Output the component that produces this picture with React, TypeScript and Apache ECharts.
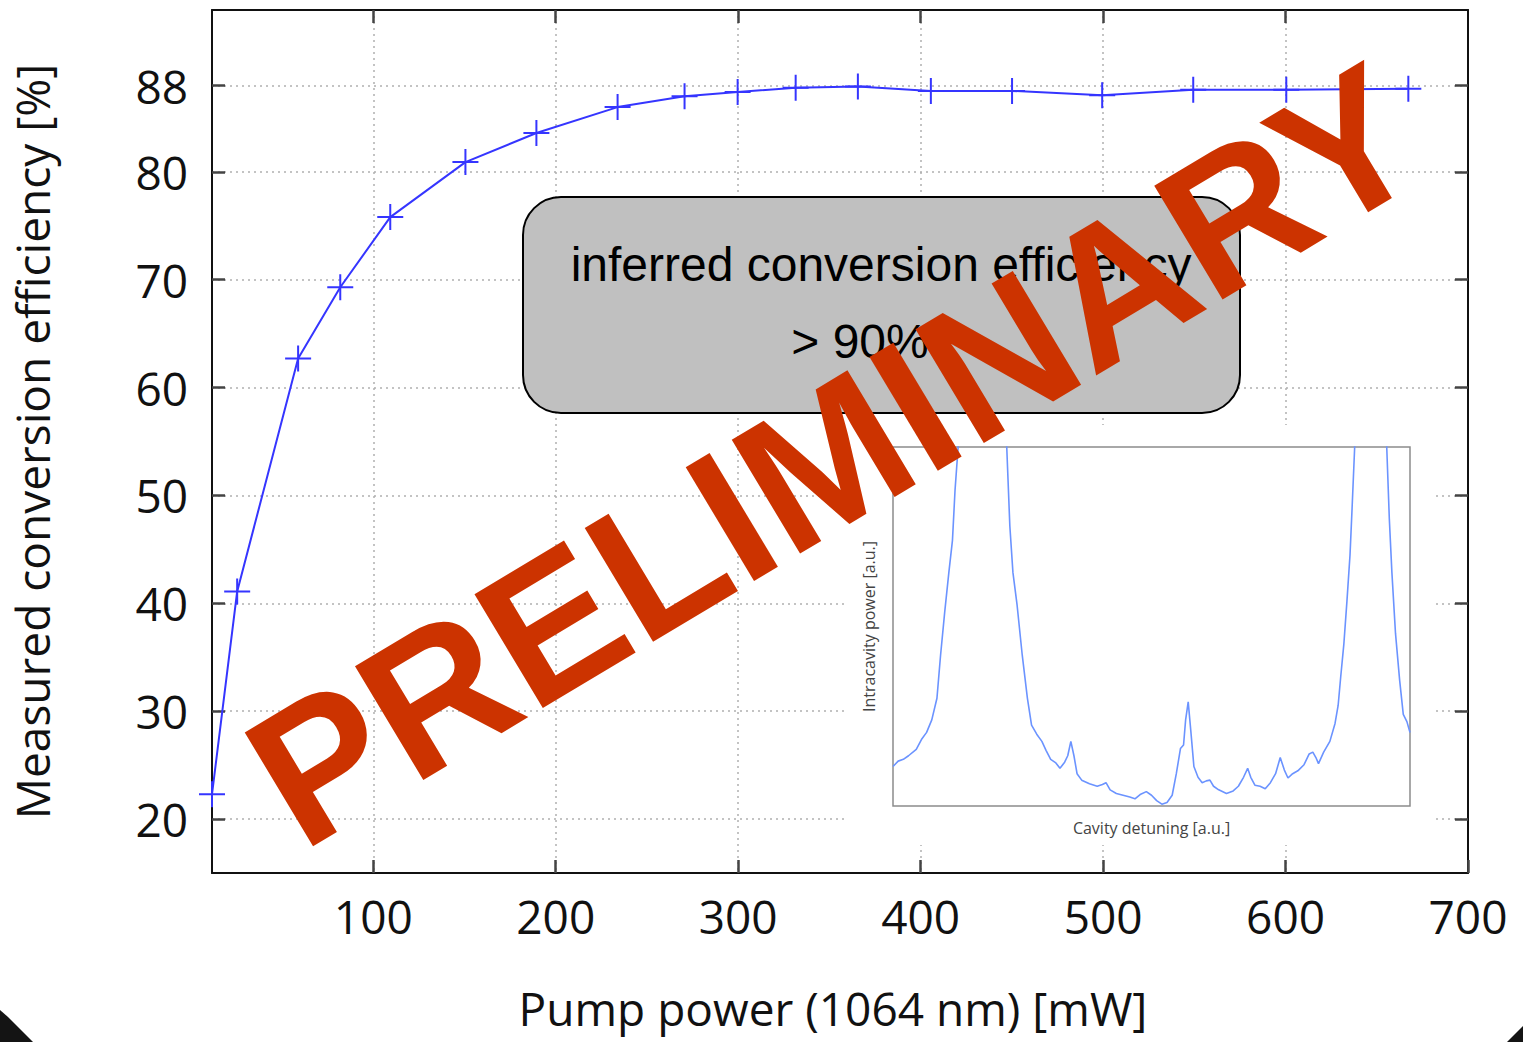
import React, { useEffect, useRef } from "react";
import * as echarts from "echarts";

// Main measured data
const pumpPower = [11.6, 25.4, 58.8, 81.9, 109.3, 150.5, 189.4, 233.9, 270.6, 299.7, 331.5, 365.6, 405.6, 450.1, 499.5, 549.4, 600.4, 667.3];
const efficiency = [22.3, 41.1, 62.7, 69.3, 75.8, 80.9, 83.6, 86.0, 87.0, 87.4, 87.8, 87.9, 87.5, 87.5, 87.1, 87.6, 87.6, 87.7];

const xTicks = [100, 200, 300, 400, 500, 600, 700];
const yTicks = [20, 30, 40, 50, 60, 70, 80, 88];

// Inset spectrum (normalised, values > 1 are clipped at top of inset)
const specX = [0.000, 0.010, 0.020, 0.030, 0.045, 0.055, 0.065, 0.075, 0.085, 0.092, 0.100, 0.108, 0.115, 0.120, 0.126, 0.140, 0.170, 0.205, 0.220, 0.226, 0.232, 0.240, 0.250, 0.260, 0.268, 0.278, 0.288, 0.296, 0.305, 0.315, 0.323, 0.332, 0.338, 0.344, 0.350, 0.356, 0.365, 0.380, 0.395, 0.405, 0.412, 0.420, 0.432, 0.445, 0.458, 0.468, 0.478, 0.490, 0.500, 0.510, 0.520, 0.530, 0.540, 0.548, 0.556, 0.562, 0.566, 0.571, 0.576, 0.582, 0.590, 0.598, 0.606, 0.613, 0.620, 0.630, 0.645, 0.658, 0.668, 0.678, 0.686, 0.692, 0.700, 0.710, 0.720, 0.730, 0.740, 0.749, 0.757, 0.764, 0.773, 0.783, 0.795, 0.805, 0.812, 0.818, 0.823, 0.833, 0.845, 0.855, 0.861, 0.866, 0.872, 0.878, 0.884, 0.888, 0.893, 0.905, 0.925, 0.945, 0.955, 0.960, 0.965, 0.972, 0.980, 0.987, 0.994, 1.000];
const specY = [0.110, 0.125, 0.130, 0.140, 0.158, 0.185, 0.205, 0.240, 0.300, 0.420, 0.540, 0.650, 0.740, 0.880, 1.000, 1.500, 2.500, 1.500, 1.000, 0.780, 0.650, 0.560, 0.420, 0.300, 0.225, 0.200, 0.180, 0.155, 0.130, 0.120, 0.105, 0.122, 0.140, 0.180, 0.140, 0.090, 0.072, 0.062, 0.055, 0.060, 0.065, 0.045, 0.035, 0.030, 0.025, 0.020, 0.032, 0.040, 0.030, 0.015, 0.005, 0.010, 0.030, 0.090, 0.160, 0.170, 0.240, 0.290, 0.210, 0.110, 0.080, 0.065, 0.070, 0.072, 0.055, 0.045, 0.035, 0.042, 0.055, 0.080, 0.105, 0.080, 0.058, 0.055, 0.048, 0.065, 0.090, 0.135, 0.100, 0.078, 0.090, 0.098, 0.115, 0.145, 0.150, 0.135, 0.118, 0.150, 0.180, 0.230, 0.280, 0.360, 0.450, 0.570, 0.700, 0.830, 1.000, 1.600, 2.500, 1.600, 1.000, 0.800, 0.650, 0.480, 0.350, 0.255, 0.235, 0.205];

const boxLine1 = "inferred conversion efficiency";
const boxLine2 = "> 90%";
const stamp = "PRELIMINARY";

const FONT = "Open Sans";
const TICK_COLOR = "#444";
const GRID_COLOR = "#b0b0b0";
const BLUE = "#3535ff";

export default function App() {
  const ref = useRef<HTMLDivElement>(null);
  useEffect(() => {
    document.body.style.margin = "0";
    const chart = echarts.init(ref.current!, null, { renderer: "svg" });
    const mainData = pumpPower.map((x, i) => [x, efficiency[i]]);
    const specData = specX.map((x, i) => [x, specY[i]]);

    const tickCommon = { show: true, inside: true, length: 13, lineStyle: { color: TICK_COLOR, width: 2.5 } };
    const lineCommon = { show: true, onZero: false, lineStyle: { color: "#111", width: 2 } };

    const option: any = {
      animation: false,
      backgroundColor: "#fff",
      grid: [
        { left: 212, top: 10, right: 55, bottom: 169, z: 0 },
        { left: 893, top: 447, width: 517, height: 359, show: true, borderColor: "#8c8c8c", borderWidth: 1.5, backgroundColor: "#fff", z: 3 },
      ],
      xAxis: [
        {
          type: "value", gridIndex: 0, position: "bottom", min: 11.6, max: 700,
          axisLine: lineCommon,
          axisTick: { ...tickCommon, customValues: xTicks },
          axisLabel: { customValues: xTicks, fontSize: 46, color: "#111", fontFamily: FONT, margin: 20 },
          splitLine: { show: true, lineStyle: { color: GRID_COLOR, type: [2, 4], width: 1.5 } },
          name: "Pump power (1064 nm) [mW]", nameLocation: "middle", nameGap: 112,
          nameTextStyle: { fontSize: 46, color: "#111", fontFamily: FONT, padding: [0, 14, 0, 0] },
        },
        {
          type: "value", gridIndex: 0, position: "top", min: 11.6, max: 700,
          axisLine: lineCommon,
          axisTick: { ...tickCommon, customValues: xTicks.slice(0, 6) },
          axisLabel: { show: false },
          splitLine: { show: false },
        },
        {
          type: "value", gridIndex: 1, min: 0, max: 1,
          axisLine: { show: false }, axisTick: { show: false }, axisLabel: { show: false }, splitLine: { show: false },
          name: "Cavity detuning [a.u.]", nameLocation: "middle", nameGap: 14,
          nameTextStyle: { fontSize: 16, color: "#444", fontFamily: FONT },
          z: 3,
        },
      ],
      yAxis: [
        {
          type: "value", gridIndex: 0, position: "left", min: 15, max: 95,
          axisLine: lineCommon,
          axisTick: { ...tickCommon, customValues: yTicks },
          axisLabel: { customValues: yTicks, fontSize: 46, color: "#111", fontFamily: FONT, margin: 24 },
          splitLine: { show: true, lineStyle: { color: GRID_COLOR, type: [2, 4], width: 1.5 } },
          name: "Measured conversion efficiency [%]", nameLocation: "middle", nameGap: 157, nameRotate: 90,
          nameTextStyle: { fontSize: 46, color: "#111", fontFamily: FONT },
        },
        {
          type: "value", gridIndex: 0, position: "right", min: 15, max: 95,
          axisLine: lineCommon,
          axisTick: { ...tickCommon, customValues: yTicks },
          axisLabel: { show: false },
          splitLine: { show: false },
        },
        {
          type: "value", gridIndex: 1, min: 0, max: 1,
          axisLine: { show: false }, axisTick: { show: false }, axisLabel: { show: false }, splitLine: { show: false },
          name: "Intracavity power [a.u.]", nameLocation: "middle", nameGap: 16, nameRotate: 90,
          nameTextStyle: { fontSize: 16, color: "#444", fontFamily: FONT },
          z: 3,
        },
      ],
      series: [
        {
          type: "line", xAxisIndex: 0, yAxisIndex: 0, data: mainData, clip: false, z: 4,
          lineStyle: { color: BLUE, width: 2 },
          symbol: "path://M0,-1L0,1M-1,0L1,0", symbolSize: 26,
          itemStyle: { color: BLUE, borderColor: BLUE, borderWidth: 2 },
        },
        {
          type: "line", xAxisIndex: 2, yAxisIndex: 2, data: specData, clip: true, z: 4,
          showSymbol: false, symbol: "none",
          lineStyle: { color: "#6b93ff", width: 1.6 },
        },
      ],
      graphic: [
        { type: "rect", z: 1, shape: { x: 847, y: 425, width: 586, height: 420 }, style: { fill: "#fff" } },
        {
          type: "rect", z: 5, shape: { x: 523, y: 197, width: 717, height: 216, r: 38 },
          style: { fill: "#c0c0c0", stroke: "#000", lineWidth: 2 },
        },
        {
          type: "text", z: 6, x: 881, y: 264,
          style: { text: boxLine1, fontSize: 48, fontFamily: "Liberation Sans", fill: "#000", align: "center", verticalAlign: "middle" },
        },
        {
          type: "text", z: 6, x: 860, y: 341,
          style: { text: boxLine2, fontSize: 48, fontFamily: "Liberation Sans", fill: "#000", align: "center", verticalAlign: "middle" },
        },
        {
          type: "text", z: 10, x: 834, y: 455, rotation: (31 * Math.PI) / 180,
          style: { text: stamp, fontSize: 193, fontWeight: "bold", fontFamily: "Liberation Sans", fill: "#cc3300", align: "center", verticalAlign: "middle" },
        },
        {
          type: "polygon", z: 20,
          shape: { points: [[0, 1010], [8, 1017], [16, 1025], [24, 1033], [33, 1042], [0, 1042]] },
          style: { fill: "#141414" },
        },
        {
          type: "polygon", z: 20,
          shape: { points: [[1523, 1026], [1516, 1033], [1507, 1042], [1523, 1042]] },
          style: { fill: "#141414" },
        },
      ],
    };
    chart.setOption(option);
    return () => chart.dispose();
  }, []);
  return <div ref={ref} style={{ width: 1523, height: 1042, position: "absolute", left: 0, top: 0 }} />;
}
